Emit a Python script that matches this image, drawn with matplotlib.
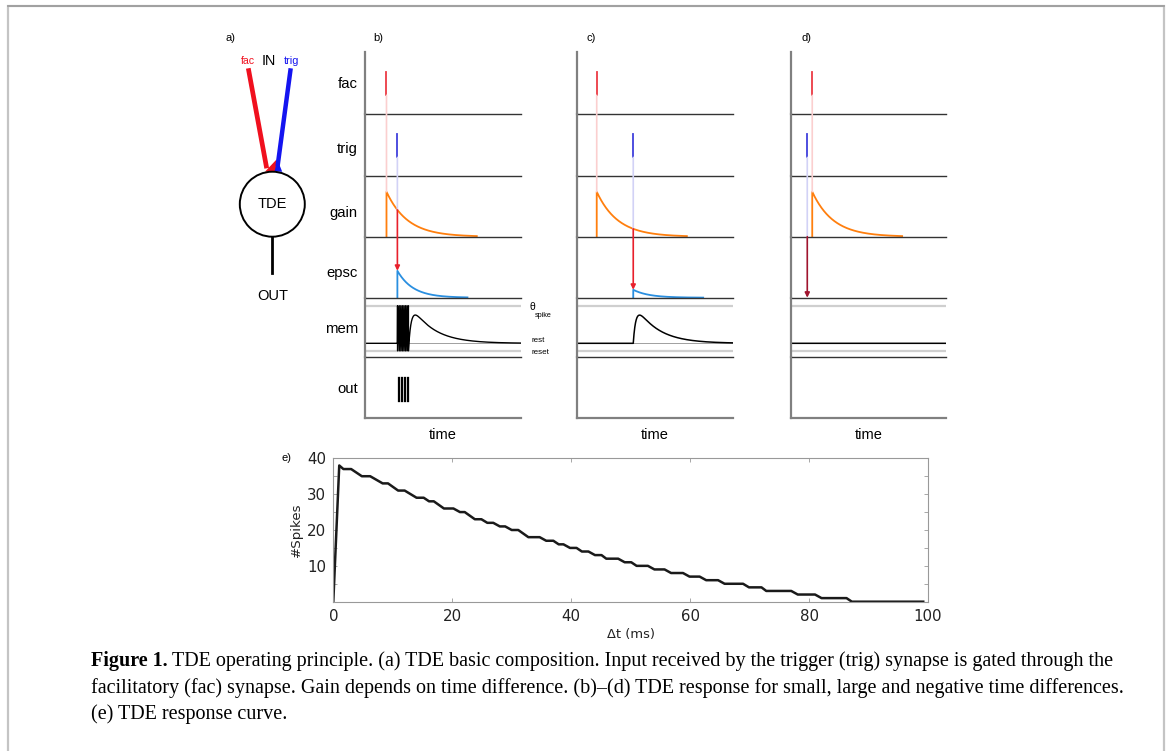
import numpy as np
import matplotlib.pyplot as plt
from matplotlib.patches import Circle, Polygon, Rectangle, ConnectionPatch
from matplotlib.lines import Line2D

W, H = 1171, 751

# e) TDE response curve: vertices of the spike-count staircase
dt_ms = [0, 1.0, 1.7, 3.0, 4.8, 6.2, 8.3, 9.2, 10.9, 12.0, 14.0, 15.2, 16.1, 16.9,
         18.6, 20.2, 21.3, 22.1, 23.8, 24.9, 25.9, 26.9, 28.0, 28.9, 30.0, 31.1,
         32.8, 34.7, 35.8, 37.0, 37.9, 38.7, 39.8, 40.9, 41.8, 42.9, 44.0, 45.1,
         45.9, 47.9, 49.0, 50.1, 51.0, 52.9, 54.0, 55.7, 56.8, 58.8, 59.9, 61.6,
         62.7, 64.7, 65.8, 68.9, 69.9, 72.0, 72.8, 77.0, 78.1, 81.0, 82.1, 86.3,
         87.2, 99.2]
n_spikes = [0, 38, 37, 37, 35, 35, 33, 33, 31, 31, 29, 29, 28, 28,
            26, 26, 25, 25, 23, 23, 22, 22, 21, 21, 20, 20,
            18, 18, 17, 17, 16, 16, 15, 15, 14, 14, 13, 13,
            12, 12, 11, 11, 10, 10, 9, 9, 8, 8, 7, 7,
            6, 6, 5, 5, 4, 4, 3, 3, 2, 2, 1, 1,
            0, 0]

# b)-d) input spike times (time axis 0-100)
panel_names = ["b)", "c)", "d)"]
t_fac = [13.8, 12.5, 13.7]
t_trig = [20.8, 36.0, 10.5]
out_spikes_b = [20.9, 22.0, 23.0, 24.0, 25.0, 26.0, 27.0, 27.9]

row_names = ["fac", "trig", "gain", "epsc", "mem", "out"]

# model constants
tau_gain = 13.5
tau_epsc = 10.0
tau_mem = 14.0
tau_rise = 1.7
v_rest, v_thresh, v_reset = 0.0, 1.0, -0.2
mem_peak = [0.9, 0.75, 0.0]
trace_len = 58.0

# colours
c_fac, c_trig = "#ec3a44", "#4040dc"
c_fac_light, c_trig_light = "#fbcfcf", "#d2d2f6"
c_gain, c_epsc = "#ff7f0e", "#2a8fe0"

# layout (pixels)
panel_x = [(365, 520.7), (577.3, 732.7), (791, 946)]
row_edges = [51.7, 114, 176, 236.7, 297.7, 357.3, 417.7]
row_label_y = [87.7, 153.3, 216.7, 277.3, 333.3, 393.3]
sans = "Liberation Sans"


def px_rect(x0, y0, x1, y1):
    return [x0 / W, 1 - y1 / H, (x1 - x0) / W, (y1 - y0) / H]


def fig_pt(x, y):
    return x / W, 1 - y / H


def kernel(t, t0):
    s = np.clip(t - t0, 0, None)
    k = np.exp(-s / tau_mem) - np.exp(-s / tau_rise)
    return k / k.max()


fig = plt.figure(figsize=(W / 100, H / 100), dpi=100)

# frame around the figure
fig.add_artist(Rectangle(fig_pt(8.3, 790), (1163.5 - 8.3) / W, (790 - 6) / H,
                         transform=fig.transFigure, fill=False,
                         edgecolor="#c4c4c4", lw=1.6))
fig.add_artist(Line2D([8.3 / W, 1163.5 / W], [1 - 6 / H] * 2,
                      transform=fig.transFigure, color="#9a9a9a", lw=1.2))

# ---- a) schematic ----
ax_a = fig.add_axes(px_rect(215, 25, 335, 310))
ax_a.set_xlim(215, 335)
ax_a.set_ylim(310, 25)
ax_a.axis("off")
ax_a.plot([248.3, 266.7], [68.3, 168.3], color="#f0101e", lw=3.4, solid_capstyle="butt")
ax_a.plot([290.7, 277.6], [68.3, 166.0], color="#1414f0", lw=3.2, solid_capstyle="butt")
ax_a.add_patch(Polygon([(265, 171.7), (276.5, 159.5), (276.5, 171.7)], color="#f0101e", lw=0))
ax_a.add_patch(Polygon([(274.5, 171.7), (277.3, 159.5), (282.2, 171.7)], color="#1414f0", lw=0))
ax_a.add_patch(Circle((272.3, 204.2), 32.5, fill=False, edgecolor="black", lw=1.4))
ax_a.plot([272.3, 272.3], [236.7, 273.3], color="black", lw=2.0)
ax_a.text(272.3, 204.2, "TDE", ha="center", va="center", fontsize=10.5, family=sans)
ax_a.text(272.3, 296, "OUT", ha="center", va="center", fontsize=10.5, family=sans)
ax_a.text(268.5, 61, "IN", ha="center", va="center", fontsize=10.3, family=sans)
ax_a.text(248, 60.5, "fac", ha="center", va="center", fontsize=7.6, family=sans, color="#f0101e")
ax_a.text(291.5, 61, "trig", ha="center", va="center", fontsize=7.8, family=sans, color="#1414f0")

for name, x in zip(["a)", "b)", "c)", "d)"], [230, 378, 591, 806]):
    fig.text(*fig_pt(x, 38), name, ha="center", va="center", fontsize=8, family=sans)

# ---- b)-d) traces ----
t = np.linspace(0, 100, 2001)
for p, (x0, x1) in enumerate(panel_x):
    axes = []
    for r in range(6):
        ax = fig.add_axes(px_rect(x0, row_edges[r], x1, row_edges[r + 1]))
        ax.set_xlim(0, 100)
        ax.set_xticks([])
        ax.set_yticks([])
        ax.patch.set_alpha(0)
        for s in ("top", "right"):
            ax.spines[s].set_visible(False)
        ax.spines["left"].set_color("#808080")
        ax.spines["left"].set_linewidth(1.6)
        ax.spines["bottom"].set_color("#333333")
        ax.spines["bottom"].set_linewidth(1.0)
        axes.append(ax)
    ax_fac, ax_trig, ax_gain, ax_epsc, ax_mem, ax_out = axes
    ax_out.spines["bottom"].set_color("#808080")
    ax_out.spines["bottom"].set_linewidth(1.6)
    for ax in (ax_fac, ax_trig, ax_out):
        ax.set_ylim(0, 1)
    ax_gain.set_ylim(0, 1.35)
    ax_epsc.set_ylim(0, 1.35)
    ax_mem.set_ylim(-0.372, 1.213)

    tf, tt = t_fac[p], t_trig[p]
    ax_fac.plot([tf, tf], [0.3, 0.68], color=c_fac, lw=1.3)
    ax_trig.plot([tt, tt], [0.3, 0.68], color=c_trig, lw=1.3)

    # facilitation gain
    tg = np.linspace(tf, tf + trace_len, 400)
    ax_gain.plot(np.r_[tf, tg], np.r_[0, np.exp(-(tg - tf) / tau_gain)],
                 color=c_gain, lw=1.3)
    g_trig = np.exp(-(tt - tf) / tau_gain) if tt >= tf else 0.0

    # trigger current scaled by gain
    if g_trig > 0:
        te = np.linspace(tt, tt + 45, 400)
        ax_epsc.plot(np.r_[tt, te], np.r_[0, g_trig * np.exp(-(te - tt) / tau_epsc)],
                     color=c_epsc, lw=1.3)

    # membrane potential
    ax_mem.axhline(v_thresh, color="#cfcfcf", lw=1.6)
    ax_mem.axhline(v_reset, color="#cfcfcf", lw=1.6)
    ax_mem.axhline(v_rest, color="#a0a0a0", lw=0.7)
    if p == 0:
        spk = out_spikes_b
        vt, vv = [0, tt], [v_rest, v_rest]
        for s in spk:
            vt += [s, s]
            vv += [v_thresh, v_reset]
        tb = t[t > spk[-1]]
        vb = v_reset * np.exp(-(tb - spk[-1]) / tau_mem) + mem_peak[p] * kernel(tb, spk[-1])
        ax_mem.plot(vt + list(tb), vv + list(vb), color="black", lw=1.0)
        for s in spk:
            ax_out.plot([s, s], [0.28, 0.67], color="black", lw=0.9)
    elif p == 1:
        ax_mem.plot(t, v_rest + mem_peak[p] * kernel(t, tt), color="black", lw=1.1)
    else:
        ax_mem.plot(t, np.full_like(t, v_rest), color="black", lw=1.1)

    # guide lines between rows
    links = [
        (ax_fac, (tf, 0.3), ax_gain, (tf, 1.0), c_fac_light, "-"),
        (ax_trig, (tt, 0.3), ax_gain, (tt, g_trig), c_trig_light, "-"),
        (ax_gain, (tt, g_trig), ax_epsc, (tt, g_trig), "#e8202c" if g_trig > 0 else "#a0142e", "-|>"),
    ]
    for axA, xyA, axB, xyB, col, style in links:
        con = ConnectionPatch(xyA, xyB, coordsA=axA.transData, coordsB=axB.transData,
                              arrowstyle=style, color=col, lw=1.2, mutation_scale=7)
        fig.add_artist(con)

    fig.text(*fig_pt((x0 + x1) / 2, 439), "time", ha="center", va="baseline",
             fontsize=10.5, family=sans)

    if p == 0:
        for name, y in zip(row_names, row_label_y):
            fig.text(*fig_pt(358, y), name, ha="right", va="baseline",
                     fontsize=10.7, family=sans)
        fig.text(*fig_pt(529, 307.5), "θ", ha="left", va="center", fontsize=7.5, family=sans)
        fig.text(*fig_pt(535, 315.5), "spike", ha="left", va="center", fontsize=5.2, family=sans)
        fig.text(*fig_pt(531, 341), "rest", ha="left", va="center", fontsize=5.8, family=sans)
        fig.text(*fig_pt(531, 352.5), "reset", ha="left", va="center", fontsize=5.8, family=sans)

# ---- e) response curve ----
ax_e = fig.add_axes(px_rect(333.3, 458.3, 928, 601.7))
ax_e.plot(dt_ms, n_spikes, color="#1a1a1a", lw=1.8)
ax_e.set_xlim(0, 100)
ax_e.set_ylim(0, 40)
ax_e.set_xticks([0, 20, 40, 60, 80, 100])
ax_e.set_yticks([10, 20, 30, 40])
ax_e.set_yticks([5, 15, 25, 35], minor=True)
ax_e.tick_params(which="both", direction="in", top=True, right=True, color="#999999",
                 length=3, width=0.6, labelsize=10.8, labelcolor="#222222", pad=5)
for s in ax_e.spines.values():
    s.set_color("#999999")
    s.set_linewidth(0.8)
ax_e.set_xlabel("Δt (ms)", fontsize=9.4, color="#222222", labelpad=3)
ax_e.set_ylabel("#Spikes", fontsize=9.6, color="#222222", labelpad=3)
fig.text(*fig_pt(287, 458), "e)", ha="center", va="center", fontsize=8, family=sans)

# ---- caption ----
serif = "Liberation Serif"
cap_size = 14.5
lines = [
    "TDE operating principle. (a) TDE basic composition. Input received by the trigger (trig) synapse is gated through the",
    "facilitatory (fac) synapse. Gain depends on time difference. (b)–(d) TDE response for small, large and negative time differences.",
    "(e) TDE response curve.",
]
baselines = [666, 693, 719]
bold = fig.text(*fig_pt(91, baselines[0]), "Figure 1.", fontsize=cap_size, family=serif,
                weight="bold", va="baseline", ha="left")
renderer = fig.canvas.get_renderer()
bx1 = bold.get_window_extent(renderer).x1
fig.text(bx1 / W + 4 / W, 1 - baselines[0] / H, lines[0], fontsize=cap_size, family=serif,
         va="baseline", ha="left")
for txt, y in zip(lines[1:], baselines[1:]):
    fig.text(*fig_pt(91, y), txt, fontsize=cap_size, family=serif, va="baseline", ha="left")

fig.savefig("out.png", dpi=100)
